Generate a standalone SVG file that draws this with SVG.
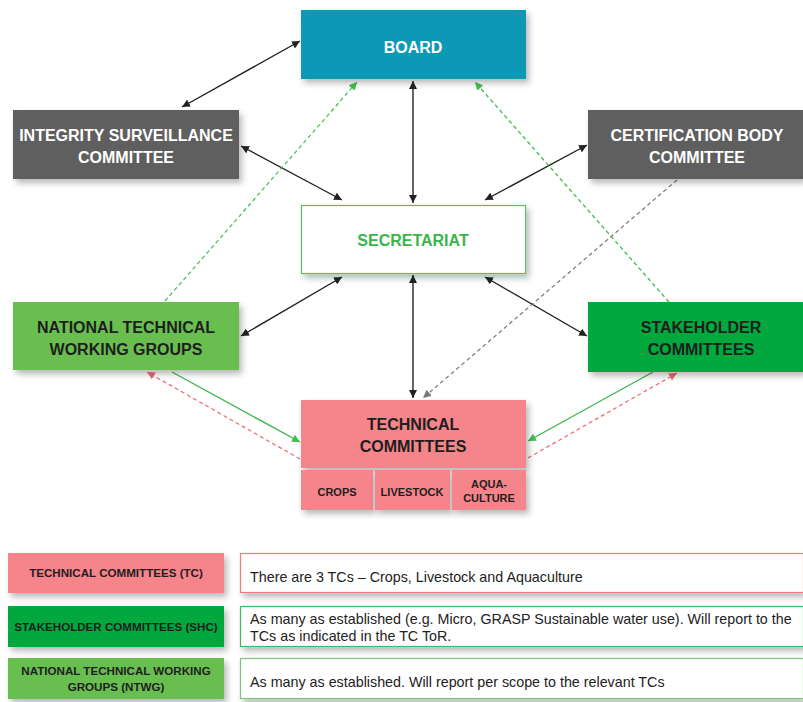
<svg xmlns="http://www.w3.org/2000/svg" width="803" height="702" viewBox="0 0 803 702">
<style>
.t{font-family:"Liberation Sans",Arial,sans-serif;font-weight:bold;text-anchor:middle}
.w{fill:#ffffff;font-size:16px}
.d{fill:#1e1e1e;font-size:16px}
.s{fill:#1e1e1e;font-size:11px}
.g{fill:#1e1e1e;font-size:11.6px}
.l{font-family:"Liberation Sans",Arial,sans-serif;font-size:14.3px;fill:#222222}
.k{stroke:#222222;stroke-width:1.4;fill:none}
.gd{stroke:#3fbf4f;stroke-width:1.2;stroke-dasharray:4 3;fill:none}
.gs{stroke:#3fb64f;stroke-width:1.4;fill:none}
.rd{stroke:#f0686e;stroke-width:1.2;stroke-dasharray:4 3;fill:none}
.yd{stroke:#777777;stroke-width:1.2;stroke-dasharray:4 3;fill:none}
</style>
<defs>
<filter id="sh" x="-10%" y="-10%" width="130%" height="140%">
<feDropShadow dx="3" dy="4" stdDeviation="3" flood-color="#000000" flood-opacity="0.28"/>
</filter>
<marker id="ak" viewBox="0 0 10 10" refX="10" refY="5" markerWidth="8" markerHeight="8" markerUnits="userSpaceOnUse" orient="auto-start-reverse"><path d="M0,0 L10,5 L0,10 z" fill="#222222"/></marker>
<marker id="ag" viewBox="0 0 10 10" refX="10" refY="5" markerWidth="8" markerHeight="8" markerUnits="userSpaceOnUse" orient="auto-start-reverse"><path d="M0,0 L10,5 L0,10 z" fill="#3fbf4f"/></marker>
<marker id="ar" viewBox="0 0 10 10" refX="10" refY="5" markerWidth="8" markerHeight="8" markerUnits="userSpaceOnUse" orient="auto-start-reverse"><path d="M0,0 L10,5 L0,10 z" fill="#f0686e"/></marker>
<marker id="ay" viewBox="0 0 10 10" refX="10" refY="5" markerWidth="8" markerHeight="8" markerUnits="userSpaceOnUse" orient="auto-start-reverse"><path d="M0,0 L10,5 L0,10 z" fill="#777777"/></marker>
</defs>
<rect width="803" height="702" fill="#ffffff"/>

<g id="connectors">
<line class="k" x1="182" y1="107" x2="300" y2="41" marker-start="url(#ak)" marker-end="url(#ak)"/>
<line class="k" x1="241" y1="146" x2="342" y2="200" marker-start="url(#ak)" marker-end="url(#ak)"/>
<line class="k" x1="413" y1="81" x2="413" y2="203" marker-start="url(#ak)" marker-end="url(#ak)"/>
<line class="k" x1="587" y1="145" x2="485" y2="200" marker-start="url(#ak)" marker-end="url(#ak)"/>
<line class="k" x1="342" y1="277" x2="241" y2="336" marker-start="url(#ak)" marker-end="url(#ak)"/>
<line class="k" x1="485" y1="277" x2="587" y2="336" marker-start="url(#ak)" marker-end="url(#ak)"/>
<line class="k" x1="413" y1="275" x2="413" y2="398" marker-start="url(#ak)" marker-end="url(#ak)"/>
<line class="gd" x1="165" y1="301" x2="357" y2="82" marker-end="url(#ag)"/>
<line class="gd" x1="669" y1="302" x2="475" y2="82" marker-end="url(#ag)"/>
<line class="yd" x1="677" y1="180" x2="423" y2="398" marker-end="url(#ay)"/>
<line class="gs" x1="172" y1="372" x2="300" y2="442" marker-end="url(#ag)"/>
<line class="rd" x1="300" y1="459" x2="147" y2="372" marker-end="url(#ar)"/>
<line class="gs" x1="653" y1="372" x2="528" y2="441" marker-end="url(#ag)"/>
<line class="rd" x1="528" y1="458" x2="677" y2="373" marker-end="url(#ar)"/>
</g>

<g id="board">
<rect x="301" y="10" width="225" height="69" fill="#0b98b6" filter="url(#sh)"/>
<text class="t w" x="413" y="53">BOARD</text>
</g>
<g id="isc">
<rect x="13" y="110" width="226" height="69" fill="#5e5e5e" filter="url(#sh)"/>
<text class="t w" x="126" y="141">INTEGRITY SURVEILLANCE</text>
<text class="t w" x="126" y="163">COMMITTEE</text>
</g>
<g id="cbc">
<rect x="588" y="110" width="215" height="69" fill="#5e5e5e" filter="url(#sh)"/>
<text class="t w" x="697" y="141">CERTIFICATION BODY</text>
<text class="t w" x="697" y="163">COMMITTEE</text>
</g>
<g id="secretariat">
<rect x="301.5" y="205.5" width="224" height="68" fill="#ffffff" stroke="#52c266" stroke-width="1.2" filter="url(#sh)"/>
<text class="t" x="413" y="246" fill="#3ab54a" font-size="16">SECRETARIAT</text>
</g>
<g id="ntwg">
<rect x="13" y="302" width="226" height="68" fill="#67bf4f" filter="url(#sh)"/>
<text class="t d" x="126" y="333">NATIONAL TECHNICAL</text>
<text class="t d" x="126" y="355">WORKING GROUPS</text>
</g>
<g id="shc">
<rect x="588" y="302" width="215" height="70" fill="#02a83e" filter="url(#sh)"/>
<text class="t d" x="701" y="333">STAKEHOLDER</text>
<text class="t d" x="701" y="355">COMMITTEES</text>
</g>
<g id="tc">
<rect x="301" y="400" width="225" height="68" fill="#f5858a" filter="url(#sh)"/>
<text class="t d" x="413" y="430">TECHNICAL</text>
<text class="t d" x="413" y="452">COMMITTEES</text>
</g>
<g id="crops">
<rect x="301" y="470" width="72" height="40" fill="#f5858a" filter="url(#sh)"/>
<text class="t s" x="337" y="496">CROPS</text>
</g>
<g id="livestock">
<rect x="375" y="470" width="75" height="40" fill="#f5858a" filter="url(#sh)"/>
<text class="t s" x="412" y="496">LIVESTOCK</text>
</g>
<g id="aquaculture">
<rect x="452" y="470" width="74" height="40" fill="#f5858a" filter="url(#sh)"/>
<text class="t s" x="489" y="488">AQUA-</text>
<text class="t s" x="489" y="502">CULTURE</text>
</g>

<g id="legend-tc">
<rect x="8" y="553" width="216" height="40" fill="#f5858a" filter="url(#sh)"/>
<text class="t g" x="116" y="577">TECHNICAL COMMITTEES (TC)</text>
<rect x="240.5" y="553.5" width="563" height="39" fill="#ffffff" stroke="#f07a80" stroke-width="1.2" filter="url(#sh)"/>
<text class="l" x="250" y="582">There are 3 TCs – Crops, Livestock and Aquaculture</text>
</g>
<g id="legend-shc">
<rect x="8" y="606" width="216" height="41" fill="#02a83e" filter="url(#sh)"/>
<text class="t g" x="116" y="631">STAKEHOLDER COMMITTEES (SHC)</text>
<rect x="240.5" y="606.5" width="563" height="40" fill="#ffffff" stroke="#3fb860" stroke-width="1.2" filter="url(#sh)"/>
<text class="l" x="250" y="624">As many as established (e.g. Micro, GRASP Sustainable water use). Will report to the</text>
<text class="l" x="250" y="641">TCs as indicated in the TC ToR.</text>
</g>
<g id="legend-ntwg">
<rect x="8" y="658" width="216" height="41" fill="#67bf4f" filter="url(#sh)"/>
<text class="t g" x="116" y="675">NATIONAL TECHNICAL WORKING</text>
<text class="t g" x="116" y="691">GROUPS (NTWG)</text>
<rect x="240.5" y="658.5" width="563" height="40" fill="#ffffff" stroke="#7ac77a" stroke-width="1.2" filter="url(#sh)"/>
<text class="l" x="250" y="687">As many as established. Will report per scope to the relevant TCs</text>
</g>
</svg>
